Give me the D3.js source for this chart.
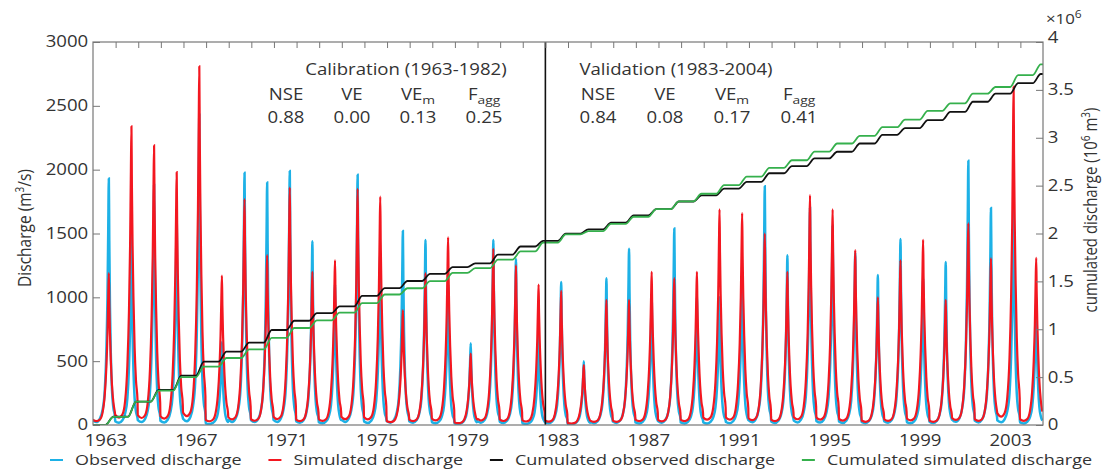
<!DOCTYPE html>
<html>
<head>
<meta charset="utf-8">
<script src="https://cdn.jsdelivr.net/npm/d3@7"></script>
<style>
  body { margin: 0; background: #fff; }
  svg text { font-family: "Open Sans", sans-serif; fill: #333; }
</style>
</head>
<body>
<svg id="chart" width="1103" height="470"></svg>
<script>
// hydrological years (Oct - Sep), labelled by the year of the spring flood
const years = [1963, 1964, 1965, 1966, 1967, 1968, 1969, 1970, 1971, 1972, 1973, 1974, 1975, 1976,
  1977, 1978, 1979, 1980, 1981, 1982, 1983, 1984, 1985, 1986, 1987, 1988, 1989, 1990,
  1991, 1992, 1993, 1994, 1995, 1996, 1997, 1998, 1999, 2000, 2001, 2002, 2003, 2004];
// annual flood peaks (m3/s)
const obsPeak = [1930, 1500, 1880, 1650, 2430, 650, 1975, 1900, 1990, 1440, 1100, 1960, 1350, 1520,
  1450, 1100, 640, 1450, 1300, 700, 1120, 500, 1150, 1380, 1000, 1540, 1000, 1000,
  1170, 1870, 1330, 1700, 1560, 1350, 1175, 1457, 1150, 1277, 2070, 1700, 1780, 1000];
const simPeak = [1190, 2340, 2190, 1980, 2810, 1170, 1770, 1330, 1860, 1200, 1290, 1850, 1790, 900,
  1190, 1470, 560, 1380, 1250, 1100, 1050, 470, 980, 980, 1200, 1150, 1200, 1690,
  1660, 1500, 1200, 1800, 1690, 1370, 1000, 1290, 1450, 980, 1580, 1305, 2650, 1310];
// typical hydrograph around a peak: offset (years) and fraction of the peak
const shapeOffset = [-0.72, -0.55, -0.40, -0.28, -0.18, -0.11, -0.06, -0.025, 0, 0.02, 0.05, 0.09, 0.14, 0.20, 0.27];
const obsShape = [0.02, 0.012, 0.025, 0.06, 0.14, 0.30, 0.52, 0.80, 1, 0.75, 0.48, 0.28, 0.14, 0.07, 0.035];
const simShape = [0.035, 0.025, 0.035, 0.08, 0.2, 0.38, 0.6, 0.85, 1, 0.8, 0.6, 0.42, 0.26, 0.15, 0.08];
// cumulated discharge at the end of each year (10^6 m3, x10^6)
const cumObs = [0.087, 0.244, 0.366, 0.515, 0.661, 0.766, 0.860, 0.992, 1.089, 1.169, 1.239, 1.349, 1.429, 1.504,
  1.579, 1.649, 1.689, 1.779, 1.864, 1.924, 1.999, 2.044, 2.114, 2.189, 2.254, 2.334, 2.399, 2.469,
  2.539, 2.629, 2.704, 2.784, 2.854, 2.940, 3.030, 3.100, 3.185, 3.270, 3.376, 3.460, 3.570, 3.666];
const cumSim = [0.085, 0.245, 0.360, 0.500, 0.610, 0.700, 0.790, 0.910, 1.013, 1.093, 1.173, 1.273, 1.363, 1.428,
  1.503, 1.588, 1.638, 1.728, 1.813, 1.905, 1.990, 2.025, 2.100, 2.175, 2.255, 2.335, 2.415, 2.505,
  2.595, 2.685, 2.765, 2.855, 2.940, 3.020, 3.110, 3.190, 3.280, 3.360, 3.460, 3.530, 3.655, 3.767];

const xTickYears = [1963, 1967, 1971, 1975, 1979, 1983, 1987, 1991, 1995, 1999, 2003];
const yLeftTicks = [0, 500, 1000, 1500, 2000, 2500, 3000];
const yRightTicks = [0, 0.5, 1, 1.5, 2, 2.5, 3, 3.5, 4];

const statNames = [["NSE", ""], ["VE", ""], ["VE", "m"], ["F", "agg"]];
const calibStats = ["0.88", "0.00", "0.13", "0.25"];
const validStats = ["0.84", "0.08", "0.17", "0.41"];

const legendItems = [
  { label: "Observed discharge", color: "#1db1e6" },
  { label: "Simulated discharge", color: "#f31720" },
  { label: "Cumulated observed discharge", color: "#111" },
  { label: "Cumulated simulated discharge", color: "#35b04c" }
];

const peakDate = 0.45;   // spring flood in June
const splitDate = 1982.75;

const margin = { top: 42, right: 60, bottom: 45, left: 93 },
  width = 1103 - margin.left - margin.right,
  height = 470 - margin.top - margin.bottom;
const stretch = "scale(1.2,1)";

const svg = d3.select("#chart");
const g = svg.append("g").attr("transform", `translate(${margin.left},${margin.top})`);

const x = d3.scaleLinear().domain([1962.75, 2004.75]).range([0, width]);
const xLabel = x.copy().domain(x.domain().map(d => d - 0.3));
const yL = d3.scaleLinear().domain([0, 3000]).range([height, 0]);
const yR = d3.scaleLinear().domain([0, 4]).range([height, 0]);

// build series
const obsSeries = [], simSeries = [];
years.forEach((yr, i) => {
  shapeOffset.forEach((o, j) => {
    obsSeries.push({ t: yr + peakDate + o, v: obsPeak[i] * obsShape[j] });
    simSeries.push({ t: yr + peakDate + o, v: simPeak[i] * simShape[j] });
  });
});
const stairs = cum => {
  const pts = [{ t: x.domain()[0], v: 0 }];
  years.forEach((yr, i) => {
    pts.push({ t: yr + peakDate - 0.15, v: i ? cum[i - 1] : 0 });
    pts.push({ t: yr + peakDate + 0.2, v: cum[i] });
  });
  pts.push({ t: x.domain()[1], v: cum[cum.length - 1] });
  return pts;
};

g.append("clipPath").attr("id", "clip")
  .append("rect").attr("width", width).attr("height", height);
const plot = g.append("g").attr("clip-path", "url(#clip)");

const lineL = d3.line().x(d => x(d.t)).y(d => yL(d.v)).curve(d3.curveMonotoneX);
const lineR = d3.line().x(d => x(d.t)).y(d => yR(d.v)).curve(d3.curveMonotoneX);

plot.append("path").datum(obsSeries).attr("d", lineL)
  .attr("fill", "none").attr("stroke", legendItems[0].color).attr("stroke-width", 2.5);
plot.append("path").datum(simSeries).attr("d", lineL)
  .attr("fill", "none").attr("stroke", legendItems[1].color).attr("stroke-width", 2.2);
plot.append("path").datum(stairs(cumObs)).attr("d", lineR)
  .attr("fill", "none").attr("stroke", legendItems[2].color).attr("stroke-width", 1.8);
plot.append("path").datum(stairs(cumSim)).attr("d", lineR)
  .attr("fill", "none").attr("stroke", legendItems[3].color).attr("stroke-width", 1.8);

// calibration / validation split
g.append("line")
  .attr("x1", x(splitDate)).attr("x2", x(splitDate))
  .attr("y1", 0).attr("y2", height)
  .attr("stroke", "#111").attr("stroke-width", 1.6);

// axes
const styleAxis = sel => {
  sel.select(".domain").remove();
  sel.selectAll(".tick line").attr("stroke", "#777");
  sel.selectAll("text").attr("font-size", 15.5).attr("fill", "#333").attr("font-family", "Open Sans");
};
g.append("g")
  .call(d3.axisLeft(yL).tickValues(yLeftTicks).tickSizeInner(-7).tickSizeOuter(0).tickPadding(4)
    .tickFormat(d3.format("d")))
  .call(styleAxis)
  .selectAll("text").attr("transform", stretch);

const rightAxis = g.append("g")
  .attr("transform", `translate(${width},0)`)
  .call(d3.axisRight(yR).tickValues(yRightTicks).tickSizeInner(-7).tickSizeOuter(0).tickPadding(4)
    .tickFormat(d3.format("~g")))
  .call(styleAxis);
rightAxis.selectAll("text").attr("transform", stretch);
rightAxis.selectAll(".tick").filter(d => d === 4).select("text").attr("dy", "0.05em");

g.append("g")
  .call(d3.axisTop(x).tickValues(d3.range(1, 42).map(i => x.domain()[0] + i))
    .tickSizeInner(-6).tickSizeOuter(0).tickFormat(""))
  .call(styleAxis);

g.append("g")
  .attr("transform", `translate(0,${height})`)
  .call(d3.axisBottom(xLabel).tickValues(xTickYears).tickSize(0).tickPadding(10).tickFormat(d3.format("d")))
  .call(styleAxis)
  .selectAll("text").attr("transform", stretch);

g.append("rect")
  .attr("width", width).attr("height", height)
  .attr("fill", "none").attr("stroke", "#777").attr("stroke-width", 1.2);

// axis titles
const sup = (t, s, size) => t.append("tspan").attr("dy", -6).attr("font-size", size).text(s);
const base = (t, s) => t.append("tspan").attr("dy", 6).text(s);

const yTitle = svg.append("text")
  .attr("transform", `translate(31,228) ${stretch} rotate(-90)`)
  .attr("text-anchor", "middle").attr("font-size", 15.5);
yTitle.append("tspan").text("Discharge (m");
sup(yTitle, "3", 10);
base(yTitle, "/s)");

const y2Title = svg.append("text")
  .attr("transform", `translate(1097,210) ${stretch} rotate(-90)`)
  .attr("text-anchor", "middle").attr("font-size", 15);
y2Title.append("tspan").text("cumulated discharge (10");
sup(y2Title, "6", 10);
base(y2Title, " m");
sup(y2Title, "3", 10);
base(y2Title, ")");

const mult = svg.append("text")
  .attr("transform", `translate(1046,24) ${stretch}`)
  .attr("font-size", 14);
mult.append("tspan").text("\u00d710");
sup(mult, "6", 10);

// statistics blocks
const statBlock = (title, titleX, colX, colStep, values) => {
  svg.append("text").attr("transform", `translate(${titleX},75) ${stretch}`)
    .attr("text-anchor", "middle").attr("font-size", 15.5).text(title);
  statNames.forEach(([n, s], i) => {
    const t = svg.append("text").attr("transform", `translate(${colX + i * colStep},100) ${stretch}`)
      .attr("text-anchor", "middle").attr("font-size", 15.5);
    t.append("tspan").text(n);
    if (s) t.append("tspan").attr("dy", 4).attr("font-size", 11.5).text(s);
    svg.append("text").attr("transform", `translate(${colX + i * colStep},123) ${stretch}`)
      .attr("text-anchor", "middle").attr("font-size", 15.5).text(values[i]);
  });
};
statBlock("Calibration (1963-1982)", 406, 286, 66, calibStats);
statBlock("Validation (1983-2004)", 676, 598, 67, validStats);

// legend
const legend = svg.append("g");
const items = legendItems.map(d => {
  const gi = legend.append("g");
  gi.append("line").attr("x1", 0).attr("x2", 13).attr("y1", 460).attr("y2", 460)
    .attr("stroke", d.color).attr("stroke-width", 2);
  const t = gi.append("text").attr("transform", `translate(25,465) ${stretch}`)
    .attr("font-size", 15).text(d.label);
  return { gi, w: 25 + t.node().getComputedTextLength() * 1.2 };
});
const legendStart = 50, legendEnd = 1092;
const gap = (legendEnd - legendStart - d3.sum(items, d => d.w)) / (items.length - 1);
let lx = legendStart;
items.forEach(d => {
  d.gi.attr("transform", `translate(${lx},0)`);
  lx += d.w + gap;
});
</script>
</body>
</html>
